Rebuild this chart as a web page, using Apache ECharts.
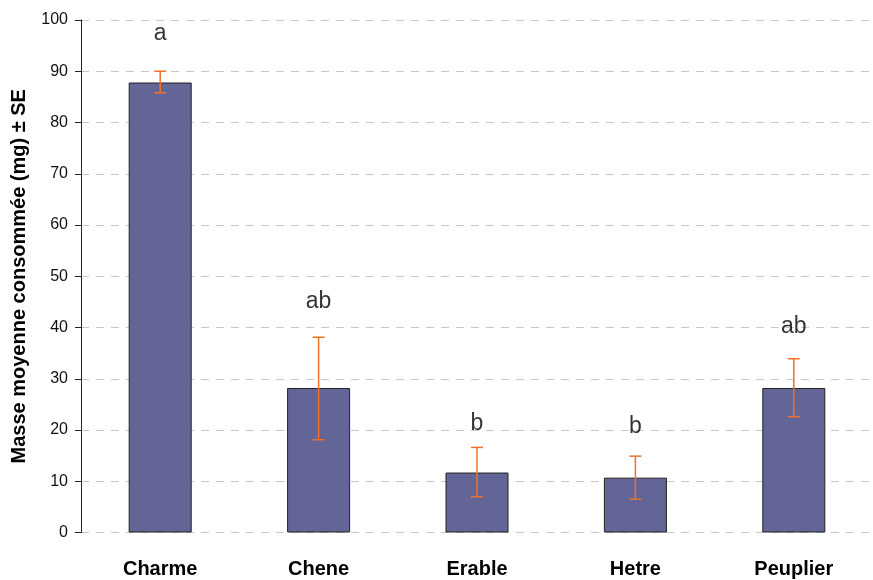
<!DOCTYPE html>
<html>
<head>
<meta charset="utf-8">
<script src="https://cdn.jsdelivr.net/npm/echarts@6/dist/echarts.min.js"></script>
<style>
  html, body { margin: 0; padding: 0; background: #fff; }
  #chart { width: 873px; height: 580px; }
</style>
</head>
<body>
<div id="chart"></div>
<script>
// Leaf species and mean consumed mass (mg)
const species = ['Charme', 'Chene', 'Erable', 'Hetre', 'Peuplier'];
const meanMass = [87.8, 28.2, 11.7, 10.7, 28.2];
const seLow = [85.8, 18.1, 7.0, 6.5, 22.6];
const seHigh = [90.0, 38.1, 16.6, 14.9, 33.9];
// Significance groups and the height at which each letter sits
const groupLetters = ['a', 'ab', 'b', 'b', 'ab'];
const letterHeight = [97.3, 45.0, 21.3, 20.7, 40.2];
const yTicks = [0, 10, 20, 30, 40, 50, 60, 70, 80, 90, 100];

const FONT = '"Liberation Sans", "DejaVu Sans", sans-serif';

const chart = echarts.init(document.getElementById('chart'), null, { renderer: 'canvas' });

const errorData = species.map((s, i) => [i, seLow[i], seHigh[i]]);
const letterData = species.map((s, i) => [i, letterHeight[i]]);

chart.setOption({
  animation: false,
  backgroundColor: '#ffffff',
  grid: {
    left: 81, right: 0, top: 20, bottom: 47.5,
    containLabel: false,
    outerBoundsMode: 'none'
  },
  xAxis: {
    type: 'category',
    data: species,
    axisLine: { show: false },
    axisTick: { show: false },
    axisLabel: {
      margin: 27,
      fontFamily: FONT,
      fontWeight: 'bold',
      fontSize: 20,
      color: '#000'
    },
    splitLine: { show: false }
  },
  yAxis: {
    type: 'value',
    min: yTicks[0],
    max: yTicks[yTicks.length - 1],
    interval: 10,
    name: 'Masse moyenne consommée (mg) ± SE',
    nameLocation: 'middle',
    nameGap: 52,
    nameRotate: 90,
    nameTextStyle: {
      fontFamily: FONT,
      fontWeight: 'bold',
      fontSize: 20,
      color: '#000'
    },
    axisLine: { show: true, lineStyle: { color: '#222', width: 1 } },
    axisTick: { show: true, length: 6, lineStyle: { color: '#222' } },
    axisLabel: {
      margin: 13,
      fontFamily: FONT,
      fontSize: 16,
      color: '#111'
    },
    splitLine: {
      show: true,
      lineStyle: { color: '#c8c8c8', type: [8, 7], width: 1 }
    }
  },
  series: [
    {
      type: 'bar',
      data: meanMass,
      barWidth: 63,
      itemStyle: { color: '#636596', borderColor: '#222', borderWidth: 1 },
      z: 2
    },
    {
      type: 'custom',
      data: errorData,
      z: 3,
      renderItem: function (params, api) {
        const x = api.value(0);
        const lo = api.coord([x, api.value(1)]);
        const hi = api.coord([x, api.value(2)]);
        const half = 6;
        const style = { stroke: '#f07028', lineWidth: 1.5 };
        return {
          type: 'group',
          children: [
            { type: 'line', shape: { x1: hi[0], y1: hi[1], x2: lo[0], y2: lo[1] }, style: style },
            { type: 'line', shape: { x1: hi[0] - half, y1: hi[1], x2: hi[0] + half, y2: hi[1] }, style: style },
            { type: 'line', shape: { x1: lo[0] - half, y1: lo[1], x2: lo[0] + half, y2: lo[1] }, style: style }
          ]
        };
      }
    },
    {
      type: 'scatter',
      data: letterData,
      symbolSize: 0,
      z: 4,
      label: {
        show: true,
        position: 'inside',
        formatter: function (p) { return groupLetters[p.dataIndex]; },
        fontFamily: FONT,
        fontSize: 23,
        color: '#000'
      }
    }
  ]
});
</script>
</body>
</html>
